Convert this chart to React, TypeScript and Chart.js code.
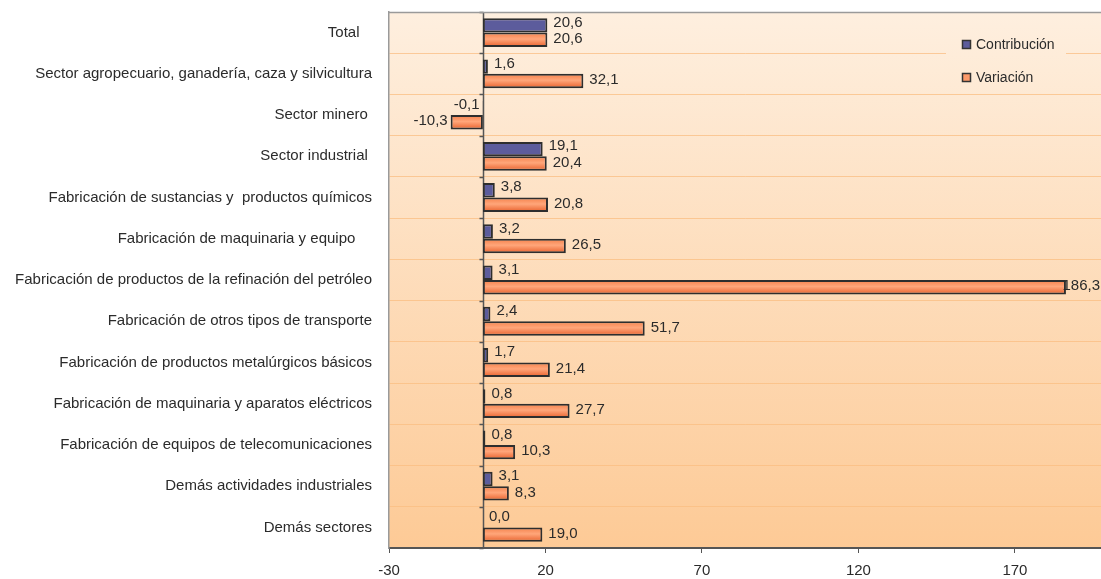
import React, { useEffect, useRef } from "react";
import { Chart, registerables } from "chart.js";

Chart.register(...registerables);

const categories: string[] = [
  "Total   ",
  "Sector agropecuario, ganadería, caza y silvicultura",
  "Sector minero ",
  "Sector industrial ",
  "Fabricación de sustancias y  productos químicos",
  "Fabricación de maquinaria y equipo    ",
  "Fabricación de productos de la refinación del petróleo",
  "Fabricación de otros tipos de transporte",
  "Fabricación de productos metalúrgicos básicos",
  "Fabricación de maquinaria y aparatos eléctricos",
  "Fabricación de equipos de telecomunicaciones",
  "Demás actividades industriales",
  "Demás sectores",
];

const contribucion: number[] = [20.6, 1.6, -0.1, 19.1, 3.8, 3.2, 3.1, 2.4, 1.7, 0.8, 0.8, 3.1, 0.0];
const variacion: number[] = [20.6, 32.1, -10.3, 20.4, 20.8, 26.5, 186.3, 51.7, 21.4, 27.7, 10.3, 8.3, 19.0];

const seriesNames: string[] = ["Contribución", "Variación"];
const xTicks: number[] = [-30, 20, 70, 120, 170];
const xMin = -30;
const xMax = 197.5;

const FONT = "'Liberation Sans', Arial, sans-serif";
const FS = 15;
const TEXT = "#2b2b2b";
const CAT_PCT = 0.7;

const fmt = (v: number) => v.toFixed(1).replace(".", ",");

export default function App() {
  const ref = useRef<HTMLCanvasElement | null>(null);

  useEffect(() => {
    if (!ref.current) return;

    const bgPlugin = {
      id: "bgPlugin",
      beforeDraw(chart: any) {
        const { ctx, chartArea: a } = chart;
        const g = ctx.createLinearGradient(0, a.top, 0, a.bottom);
        g.addColorStop(0, "#feefdf");
        g.addColorStop(1, "#fdca96");
        ctx.save();
        ctx.fillStyle = g;
        ctx.fillRect(a.left, a.top, a.right - a.left, a.bottom - a.top);
        ctx.restore();
      },
      beforeDatasetsDraw(chart: any) {
        const { ctx, chartArea: a, scales } = chart;
        const x0 = Math.round(scales.x.getPixelForValue(0)) + 0.5;
        ctx.save();
        ctx.strokeStyle = "#555";
        ctx.lineWidth = 1.5;
        ctx.beginPath();
        ctx.moveTo(x0, a.top);
        ctx.lineTo(x0, a.bottom);
        const ys = scales.y;
        const step = ys.getPixelForValue(1) - ys.getPixelForValue(0);
        for (let i = 0; i <= categories.length; i++) {
          const yy = Math.round(ys.getPixelForValue(0) - step / 2 + i * step) + 0.5;
          ctx.moveTo(x0 - 4, yy);
          ctx.lineTo(x0, yy);
        }
        ctx.stroke();
        ctx.strokeStyle = "#9a9a9a";
        ctx.lineWidth = 1.5;
        ctx.beginPath();
        ctx.moveTo(a.left, a.top + 0.5);
        ctx.lineTo(a.right, a.top + 0.5);
        ctx.stroke();
        ctx.restore();
      },
      afterDatasetsDraw(chart: any) {
        const { ctx, chartArea: a } = chart;
        ctx.save();
        ctx.font = `${FS}px ${FONT}`;
        ctx.fillStyle = TEXT;
        ctx.textBaseline = "middle";
        chart.data.datasets.forEach((ds: any, di: number) => {
          const meta = chart.getDatasetMeta(di);
          meta.data.forEach((el: any, i: number) => {
            const v = ds.data[i];
            const txt = fmt(v);
            const yOff = di === 0 ? -3 : -1;
            if (v < 0) {
              ctx.textAlign = "right";
              ctx.fillText(txt, el.x - 3, el.y + yOff);
            } else {
              ctx.textAlign = "left";
              const w = ctx.measureText(txt).width;
              const x = Math.min(el.x + 6, a.right - w - 1);
              ctx.fillText(txt, x, el.y + yOff);
            }
          });
        });
        ctx.restore();
      },
      afterDraw(chart: any) {
        const { ctx, chartArea: a } = chart;
        const g = ctx.createLinearGradient(0, a.top, 0, a.bottom);
        g.addColorStop(0, "#feefdf");
        g.addColorStop(1, "#fdca96");
        ctx.save();
        ctx.fillStyle = g;
        ctx.fillRect(946, 30, 120, 40);
        const items = [
          { name: seriesNames[0], color: "#5c5c9c", y: 45 },
          { name: seriesNames[1], color: "#fd9a6a", y: 78 },
        ];
        ctx.font = `14px ${FONT}`;
        ctx.textBaseline = "middle";
        ctx.textAlign = "left";
        items.forEach((it) => {
          ctx.fillStyle = it.color;
          ctx.fillRect(962.5, it.y - 4.5, 8, 8);
          ctx.strokeStyle = "#333";
          ctx.lineWidth = 1.5;
          ctx.strokeRect(962.5, it.y - 4.5, 8, 8);
          ctx.fillStyle = TEXT;
          ctx.fillText(it.name, 976, it.y);
        });
        ctx.restore();
      },
    };

    const variationColor = (c: any) => {
      const chart = c.chart;
      const ys = chart.scales && chart.scales.y;
      if (!ys || c.type !== "data") return "#f98c5c";
      const center = ys.getPixelForValue(c.dataIndex);
      const step = Math.abs(ys.getPixelForValue(1) - ys.getPixelForValue(0));
      const h = (step * CAT_PCT) / 2;
      if (!isFinite(center) || !isFinite(h) || h <= 0) return "#f98c5c";
      const g = chart.ctx.createLinearGradient(0, center, 0, center + h);
      g.addColorStop(0, "#f5804a");
      g.addColorStop(0.45, "#ffa67a");
      g.addColorStop(1, "#e8602c");
      return g;
    };

    const chart = new Chart(ref.current, {
      type: "bar",
      data: {
        labels: categories,
        datasets: [
          {
            label: seriesNames[0],
            data: contribucion,
            backgroundColor: "#5c5c9c",
            borderColor: "#2e2e2e",
            borderWidth: 2,
            borderSkipped: false,
            barPercentage: 1,
            categoryPercentage: CAT_PCT,
          },
          {
            label: seriesNames[1],
            data: variacion,
            backgroundColor: variationColor,
            borderColor: "#2e2e2e",
            borderWidth: 2,
            borderSkipped: false,
            barPercentage: 1,
            categoryPercentage: CAT_PCT,
          },
        ],
      },
      options: {
        indexAxis: "y",
        responsive: false,
        animation: false,
        layout: { padding: { top: 12, right: 0, bottom: 0, left: 0 } },
        plugins: {
          legend: { display: false },
          tooltip: { enabled: false },
        },
        scales: {
          x: {
            type: "linear",
            min: xMin,
            max: xMax,
            afterBuildTicks: (scale: any) => {
              scale.ticks = xTicks.map((v) => ({ value: v }));
            },
            afterFit: (scale: any) => {
              scale.height = 31;
            },
            ticks: {
              font: { family: FONT, size: FS },
              color: TEXT,
              padding: 9,
              maxRotation: 0,
              autoSkip: false,
              callback: (v: any) => String(v),
            },
            grid: {
              drawOnChartArea: false,
              drawTicks: true,
              tickLength: 5,
              color: "#555",
            },
            border: { color: "#555", width: 2 },
          },
          y: {
            type: "category",
            afterFit: (scale: any) => {
              scale.width = 389;
              scale.paddingTop = 0;
              scale.paddingBottom = 0;
            },
            ticks: {
              font: { family: FONT, size: FS },
              color: TEXT,
              padding: 17,
              autoSkip: false,
            },
            grid: {
              color: "rgba(250,190,130,0.75)",
              lineWidth: 1,
              drawTicks: false,
              offset: true,
            },
            border: { color: "#9a9a9a", width: 1.5 },
          },
        },
      },
      plugins: [bgPlugin],
    } as any);

    return () => chart.destroy();
  }, []);

  return (
    <div style={{ position: "absolute", left: 0, top: 0, width: 1101, height: 579, background: "#fff" }}>
      <canvas ref={ref} width={1101} height={579} />
    </div>
  );
}
